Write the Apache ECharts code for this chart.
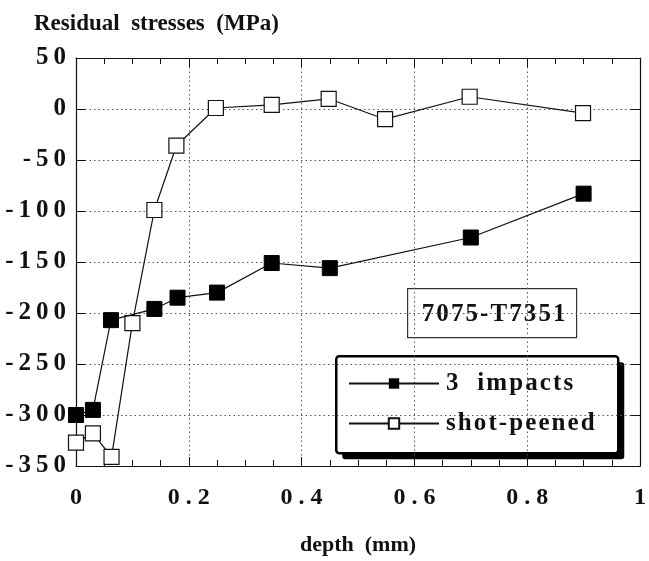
<!DOCTYPE html>
<html>
<head>
<meta charset="utf-8">
<script src="https://cdn.jsdelivr.net/npm/echarts@6/dist/echarts.min.js"></script>
<style>
  html, body { margin: 0; padding: 0; background: #fff; }
  #chart { width: 649px; height: 561px; }
</style>
</head>
<body>
<div id="chart"></div>
<script>
// depth (mm) vs residual stress (MPa)
const impactsDepth = [0, 0.03, 0.062, 0.139, 0.18, 0.25, 0.347, 0.45, 0.70, 0.90];
const impactsStress = [-300, -295, -207, -196, -185, -180, -151, -156, -126, -83];
const peenedDepth = [0, 0.03, 0.063, 0.10, 0.139, 0.178, 0.248, 0.347, 0.448, 0.548, 0.698, 0.899];
const peenedStress = [-327, -318, -341, -210, -99, -36, 1, 4, 10, -10, 12, -4];

const seriesNames = ["3  impacts", "shot-peened"];
const note = "7075-T7351";

const font = "Liberation Serif";
// the scan has loose letter spacing, fake it with thin/hair spaces
const spaced = (v, sep) => String(v).split("").join(sep || "\u2009");

const chart = echarts.init(document.getElementById("chart"));

const axisBase = {
  type: "value",
  axisLine: { show: true, onZero: false, lineStyle: { color: "#111", width: 1.2 } },
  axisTick: { show: true, inside: true, length: 9, lineStyle: { color: "#111" } },
  minorTick: { show: true, splitNumber: 4, length: 6, lineStyle: { color: "#111" } },
  splitLine: { show: false },
};
const gridDots = { show: true, lineStyle: { type: [1.5, 3], color: "#555", width: 1 } };

chart.setOption({
  animation: false,
  title: {
    text: "Residual  stresses  (MPa)",
    left: 29,
    top: 8,
    textStyle: { fontFamily: font, fontWeight: "bold", fontSize: 23, color: "#111" },
  },
  grid: { left: 76, right: 5, top: 58, bottom: 87 },
  xAxis: [
    {
      ...axisBase,
      min: 0,
      max: 1,
      interval: 0.2,
      name: "depth  (mm)",
      nameLocation: "middle",
      nameGap: 68,
      nameTextStyle: { fontFamily: font, fontWeight: "bold", fontSize: 22, color: "#111" },
      axisLabel: {
        margin: 20,
        fontFamily: font,
        fontWeight: "bold",
        fontSize: 24,
        color: "#111",
        formatter: (v) => spaced(v, " "),
      },
      splitLine: gridDots,
    },
    {
      ...axisBase,
      position: "top",
      min: 0,
      max: 1,
      interval: 0.2,
      axisLabel: { show: false },
    },
  ],
  yAxis: [
    {
      ...axisBase,
      min: -350,
      max: 50,
      interval: 50,
      minorTick: { show: false },
      axisLabel: {
        margin: 10,
        fontFamily: font,
        fontWeight: "bold",
        fontSize: 25,
        color: "#111",
        formatter: (v) => spaced(v),
      },
      splitLine: gridDots,
    },
    {
      ...axisBase,
      position: "right",
      min: -350,
      max: 50,
      interval: 50,
      minorTick: { show: false },
      axisLabel: { show: false },
    },
  ],
  legend: {
    left: 348,
    top: 371,
    orient: "vertical",
    itemWidth: 90,
    itemHeight: 13,
    itemGap: 15,
    padding: 0,
    z: 20,
    textStyle: { fontFamily: font, fontWeight: "bold", fontSize: 25, color: "#111", padding: [0, 0, 0, 2] },
    formatter: (name) => spaced(name, "\u200A"),
    data: seriesNames,
  },
  graphic: [
    // annotation box
    {
      type: "group",
      left: 407,
      top: 288,
      z: 10,
      children: [
        {
          type: "rect",
          shape: { x: 0, y: 0, width: 169, height: 49 },
          style: { fill: "#fff", stroke: "#333", lineWidth: 1.2 },
        },
        {
          type: "text",
          x: 86,
          y: 26,
          style: {
            text: spaced(note, "\u200A"),
            font: "bold 25px 'Liberation Serif'",
            fill: "#111",
            align: "center",
            verticalAlign: "middle",
          },
        },
      ],
    },
    // legend frame with heavy drop shadow
    {
      type: "group",
      left: 335,
      top: 355,
      z: 10,
      children: [
        {
          type: "rect",
          shape: { x: 6, y: 6, width: 282, height: 97, r: 3 },
          style: { fill: "#000" },
        },
        {
          type: "rect",
          shape: { x: 0, y: 0, width: 282, height: 97, r: 3 },
          style: { fill: "#fff", stroke: "#000", lineWidth: 2.5 },
        },
      ],
    },
  ],
  series: [
    {
      name: seriesNames[0],
      type: "line",
      data: impactsDepth.map((d, i) => [d, impactsStress[i]]),
      symbol: "rect",
      symbolSize: 15,
      itemStyle: { color: "#000", borderColor: "#000" },
      lineStyle: { color: "#111", width: 1.2 },
      z: 3,
    },
    {
      name: seriesNames[1],
      type: "line",
      data: peenedDepth.map((d, i) => [d, peenedStress[i]]),
      symbol: "rect",
      symbolSize: 15,
      showAllSymbol: true,
      itemStyle: { color: "#fff", borderColor: "#111", borderWidth: 1.2 },
      lineStyle: { color: "#111", width: 1.2 },
      z: 2,
    },
  ],
});
</script>
</body>
</html>
